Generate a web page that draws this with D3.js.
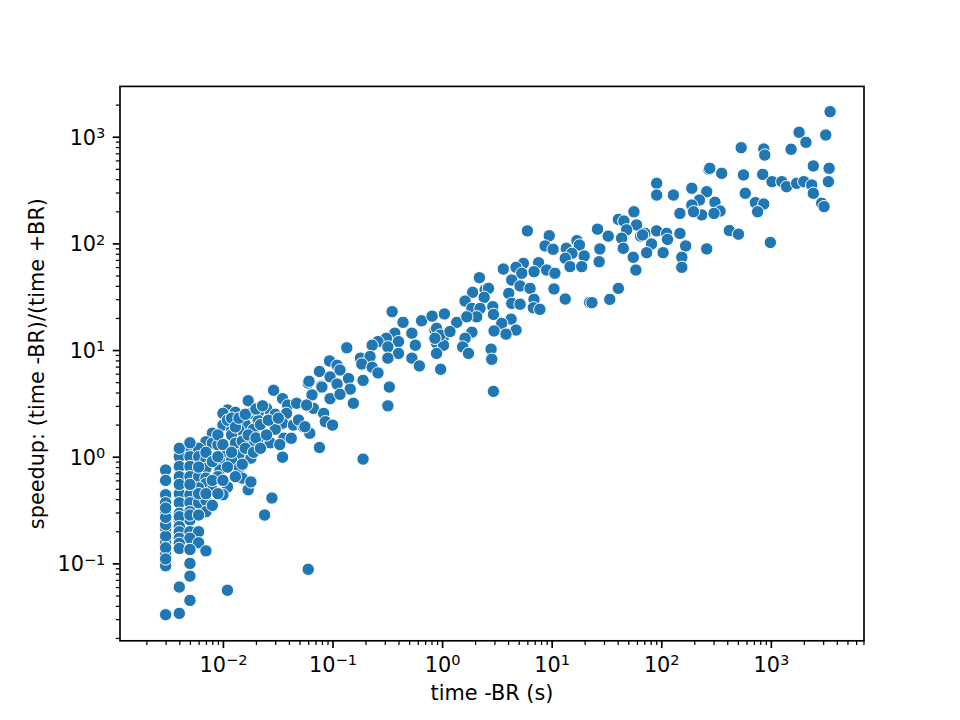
<!DOCTYPE html>
<html>
<head>
<meta charset="utf-8">
<script src="https://cdn.jsdelivr.net/npm/d3@7"></script>
<style>
  body { margin: 0; background: #fff; }
  svg { display: block; font-family: "DejaVu Sans", sans-serif; }
</style>
</head>
<body>
<div id="chart-container"></div>
<script>
// Axis limits and decade ticks (log-log)
const xLimits = [0.00115, 7080];
const yLimits = [0.0188, 2965];
const xExponents = [-2, -1, 0, 1, 2, 3];
const yExponents = [-1, 0, 1, 2, 3];

// time -BR (s) for every run
const timeBR = [
  0.029,0.035,0.017,0.025,0.039,0.047,0.011,0.013,0.010,0.018,0.021,0.030,0.038,0.021,0.010,0.016,0.035,0.044,0.012,0.014,0.019,0.030,0.008,0.012,0.021,0.036,0.042,0.027,0.007,0.008,
  0.009,0.013,0.018,0.005,0.006,0.011,0.014,0.018,0.035,0.004,0.005,0.006,0.007,0.0094,0.012,0.004,0.005,0.007,0.0094,0.014,0.003,0.004,0.005,0.006,0.007,0.009,0.015,0.003,0.007,0.011,
  0.006,0.008,0.010,0.017,0.018,0.004,0.005,0.004,0.005,0.006,0.007,0.003,0.003,0.007,0.008,0.003,0.004,0.005,0.028,0.024,0.003,0.004,0.005,0.004,0.005,0.006,0.003,0.004,0.004,0.005,
  0.006,0.004,0.005,0.003,0.004,0.006,0.004,0.005,0.007,0.003,0.003,0.003,0.005,0.005,0.004,0.011,0.005,0.003,0.004,0.003,0.003,0.003,0.003,0.003,0.003,0.004,0.004,0.005,0.005,0.006,
  0.006,0.007,0.007,0.008,0.008,0.009,0.009,0.009,0.010,0.010,0.011,0.011,0.012,0.012,0.013,0.013,0.014,0.015,0.015,0.016,0.016,0.017,0.019,0.020,0.020,0.022,0.022,0.023,0.025,0.026,0.032,0.033,
  0.060,0.079,0.065,0.095,0.067,0.083,0.086,0.10,0.054,0.062,0.076,0.060,0.19,
  0.35,0.44,0.65,0.81,1.05,0.86,1.03,0.53,0.37,0.31,0.40,0.57,0.26,0.23,0.32,0.89,1.03,0.135,0.40,0.89,0.18,0.22,0.32,0.53,0.62,0.97,0.094,0.11,0.185,0.23,0.26,0.076,0.117,0.095,0.14,0.19,0.061,0.080,0.11,0.145,0.33,0.117,0.155,0.32,0.058,0.049,0.056,
  6.0,9.5,8.7,10.3,13.6,17.0,17.9,19.8,15.3,13.3,14.7,18.8,7.6,9.0,10.7,6.9,5.52,4.73,3.62,5.33,4.32,2.19,5.15,6.35,10.5,13.3,22.2,1.90,2.47,2.65,4.06,2.42,1.62,4.32,5.15,6.9,6.8,7.8,1.87,2.22,2.07,2.90,2.94,1.36,1.68,4.26,3.50,0.89,0.96,1.18,1.87,2.98,4.73,3.83,0.86,1.62,1.54,1.74,2.80,2.84,2.94,
  90.8,90.8,129,190,260,272,223,190,234,148,56.3,40.6,45.6,59.5,71,48.3,90.8,112,148,26.2,32.8,43.5,64.8,114,45,81.5,167,27.5,73.6,104,55.5,154,260,27.1,58.7,154,40.6,33.9,23.3,
  3470,1810,3170,2090,536,862,880,1530,277,356,563,843,2440,3400,1025,1260,1390,1720,2000,2360,3350,2440,2910,3060,309,344,197,303,584,722,862,758,418,506,990,67.5
];

// speedup: (time -BR)/(time +BR), same order
const speedup = [
  4.2,3.5,3.35,2.84,3.05,3.17,2.74,2.61,2.55,2.55,2.59,2.5,2.55,2.18,1.98,2.01,2.06,1.98,1.78,1.78,1.81,1.81,1.66,1.6,1.49,1.49,1.49,1.35,1.38,1.34,
  1.29,1.34,1.29,1.24,1.2,1.11,1.04,0.97,0.99,1.0,1.0,1.0,0.93,0.9,0.93,0.81,0.81,0.78,0.75,0.78,0.75,0.65,0.65,0.65,0.63,0.65,0.63,0.6,0.56,0.52,
  0.51,0.49,0.44,0.49,0.58,0.45,0.44,0.37,0.37,0.37,0.39,0.44,0.37,0.305,0.35,0.305,0.295,0.305,0.41,0.284,0.255,0.255,0.255,0.274,0.284,0.284,0.213,0.221,0.198,0.198,
  0.198,0.172,0.172,0.156,0.154,0.156,0.138,0.135,0.131,0.12,0.104,0.095,0.1,0.076,0.06,0.056,0.045,0.033,0.034,0.18,0.14,0.11,0.23,0.27,0.33,1.2,0.55,0.55,1.35,0.8,
  0.45,0.45,1.1,0.6,0.9,0.45,1.6,1.0,0.6,1.3,2.2,0.8,1.1,2.3,0.65,1.9,2.3,1.4,0.85,2.5,1.2,1.6,1.1,2.8,1.5,2.0,1.2,3.0,1.6,2.2,2.3,1.3,
  4.9,4.6,3.8,3.5,2.84,2.55,2.13,1.98,1.91,1.66,1.22,0.088,0.95,
  22.9,18.2,18.8,20.8,21.8,15.4,13.3,14.4,14.4,12.9,12,11.1,12,11.1,10.7,11.6,11.1,10.5,9.3,9.3,8.4,8.7,8.4,8.4,7.1,6.6,7.9,7.2,7.4,6.9,6.1,6.3,6.5,5.6,5.4,5.2,5.1,4.5,4.8,4.3,4.5,3.85,3.17,3.0,3.05,2.21,1.91,
  131,118,94.6,88.1,90,106,96.6,76.2,80.7,72.5,60.5,60.5,65.9,56.3,52.5,54.3,65,59.7,57.5,52.5,45.4,47.7,39.9,37.9,37.4,30.1,28,34.8,36.6,37.9,34,31.2,28.8,27.4,26.9,29.9,24.9,24.1,24.6,24.6,20.5,25.5,21.6,18.2,20.5,19.5,17.8,16,13.8,14.9,14.7,15.1,15.4,14.1,12.9,12.9,10.7,9.3,10.2,8.2,4.1,
  366,284,284,329,305,495,255,229,185,191,198,168,162,149,124,134,131,124,124,136,117,112,117,109,90,98.7,94.6,88.7,81.8,81.8,74.1,74.1,88.7,67.3,56.3,59.7,37.9,29.9,27.8,
  1718,1101,1038,887,789,767,674,763,506,454,438,444,532,506,379,379,340,366,379,353,379,295,238,221,243,201,198,191,295,241,234,198,132,122,102,120
];

const data = timeBR.map((t, i) => ({ t: t, s: speedup[i] }));

// matplotlib default figure (6.4x4.8 in @150dpi) and subplot box
const margin = { top: 86.4, right: 96, bottom: 79.2, left: 120 };
const width = 960 - margin.left - margin.right;
const height = 720 - margin.top - margin.bottom;

const x = d3.scaleLog().domain(xLimits).range([0, width]);
const y = d3.scaleLog().domain(yLimits).range([height, 0]);

// minor ticks at 2..9 of every decade inside the limits
function minorTicks(lim) {
  const out = [];
  for (let e = -4; e <= 4; e++) {
    for (let m = 2; m <= 9; m++) {
      const v = m * Math.pow(10, e);
      if (v >= lim[0] && v <= lim[1]) out.push(v);
    }
  }
  return out;
}

const svg = d3.select("#chart-container")
  .append("svg")
  .attr("width", 960)
  .attr("height", 720)
  .style("background", "#fff")
  .append("g")
  .attr("transform", `translate(${margin.left},${margin.top})`);

// the points
svg.append("g")
  .selectAll("circle")
  .data(data)
  .join("circle")
  .attr("cx", d => x(d.t))
  .attr("cy", d => y(d.s))
  .attr("r", 6.2)
  .attr("fill", "#1f77b4")
  .attr("stroke", "#fff")
  .attr("stroke-width", 1);

const fontSize = 20.8;
const supSize = 14.6;

function powerLabel(sel, exps) {
  sel.each(function (d, i) {
    const t = d3.select(this);
    const e = exps[i];
    t.text(null);
    t.append("tspan").text("10");
    t.append("tspan")
      .attr("dy", -6.7)
      .attr("font-size", supSize)
      .text(e < 0 ? "\u2212" + Math.abs(e) : String(e));
  });
}

// x axis: minor then major
svg.append("g")
  .attr("transform", `translate(0,${height})`)
  .call(d3.axisBottom(x).tickValues(minorTicks(xLimits)).tickSize(4.2).tickFormat(""))
  .call(g => g.select(".domain").remove())
  .selectAll(".tick line").attr("stroke", "#000").attr("stroke-width", 1.25);

svg.append("g")
  .attr("transform", `translate(0,${height})`)
  .style("font-size", fontSize + "px")
  .style("font-family", "DejaVu Sans")
  .call(d3.axisBottom(x).tickValues(xExponents.map(e => Math.pow(10, e))).tickSize(7.3).tickPadding(7.3))
  .call(g => g.select(".domain").remove())
  .call(g => g.selectAll(".tick line").attr("stroke", "#000").attr("stroke-width", 1.67))
  .call(g => g.selectAll(".tick text")
    .attr("fill", "#000")
    .attr("y", 31.2)
    .attr("dy", null)
    .call(powerLabel, xExponents));

// y axis: minor then major
svg.append("g")
  .call(d3.axisLeft(y).tickValues(minorTicks(yLimits)).tickSize(4.2).tickFormat(""))
  .call(g => g.select(".domain").remove())
  .selectAll(".tick line").attr("stroke", "#000").attr("stroke-width", 1.25);

svg.append("g")
  .style("font-size", fontSize + "px")
  .style("font-family", "DejaVu Sans")
  .call(d3.axisLeft(y).tickValues(yExponents.map(e => Math.pow(10, e))).tickSize(7.3).tickPadding(7.3))
  .call(g => g.select(".domain").remove())
  .call(g => g.selectAll(".tick line").attr("stroke", "#000").attr("stroke-width", 1.67))
  .call(g => g.selectAll(".tick text")
    .attr("fill", "#000")
    .attr("dy", 7.5)
    .call(powerLabel, yExponents));

// spines
svg.append("rect")
  .attr("width", width)
  .attr("height", height)
  .attr("fill", "none")
  .attr("stroke", "#000")
  .attr("stroke-width", 1.67);

// axis labels
svg.append("text")
  .attr("x", width / 2)
  .attr("y", height + 59)
  .attr("text-anchor", "middle")
  .style("font-size", fontSize + "px")
  .text("time -BR (s)");

svg.append("text")
  .attr("transform", "rotate(-90)")
  .attr("x", -height / 2)
  .attr("y", -76)
  .attr("text-anchor", "middle")
  .style("font-size", fontSize + "px")
  .text("speedup: (time -BR)/(time +BR)");
</script>
</body>
</html>
